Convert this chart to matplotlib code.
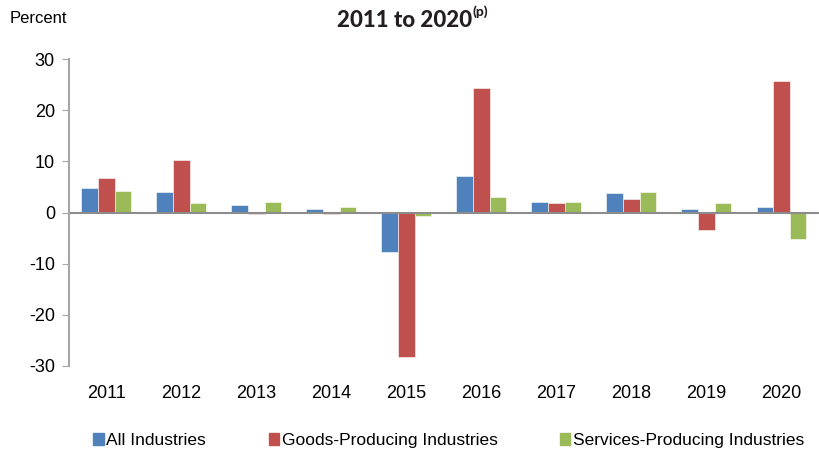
import numpy as np
import matplotlib.pyplot as plt
from matplotlib.patches import Patch

plt.rcParams['font.family'] = ['Liberation Sans', 'DejaVu Sans']
plt.rcParams['axes.unicode_minus'] = False

years = ["2011", "2012", "2013", "2014", "2015", "2016", "2017", "2018", "2019", "2020"]
all_ind = [4.8, 4.0, 1.4, 0.6, -7.7, 7.2, 2.0, 3.8, 0.7, 1.0]
goods = [6.8, 10.2, -0.3, -0.3, -28.3, 24.3, 1.9, 2.7, -3.5, 25.7]
services = [4.2, 1.8, 2.1, 1.0, -0.7, 3.1, 2.0, 4.0, 1.8, -5.2]

series = [("All Industries", all_ind, "#4F81BD"),
          ("Goods-Producing Industries", goods, "#C0504D"),
          ("Services-Producing Industries", services, "#9BBB59")]

fig = plt.figure(figsize=(8.19, 4.51), dpi=100)
ax = fig.add_axes([0.084, 0.1885, 0.916, 0.6805])

x = np.arange(len(years))
w = 0.222
for i, (name, vals, col) in enumerate(series):
    ax.bar(x + (i - 1) * w, vals, w, color=col, edgecolor='white', linewidth=0.4, label=name)

ax.set_xlim(-0.5, len(years) - 0.5)
ax.set_ylim(-30, 30)
ax.set_yticks([-30, -20, -10, 0, 10, 20, 30])
ax.set_xticks(x)
ax.set_xticklabels(years)
ax.tick_params(axis='y', labelsize=13, length=5, color='#a6a6a6', pad=5)
ax.tick_params(axis='x', labelsize=13, length=0, pad=14)
for s in ['top', 'right', 'bottom']:
    ax.spines[s].set_visible(False)
ax.spines['left'].set_color('#a6a6a6')
ax.spines['left'].set_linewidth(1.5)
ax.axhline(0, color='#8c8c8c', linewidth=1.5)

fig.text(0.012, 0.96, "Percent", fontsize=12, va='center', ha='left')
# title with superscript drawn as two pieces
fig.text(0.576, 0.955, "2011 to 2020", fontsize=16, fontweight='black',
         family='Lato', color='#231f20', ha='right', va='center')
fig.text(0.577, 0.975, "(p)", fontsize=10, fontweight='black',
         family='Lato', color='#231f20', ha='left', va='center')

handles = [Patch(color=c, label=n) for n, v, c in series]
fig.legend(handles=handles, loc='center', bbox_to_anchor=(0.548, 0.023), ncol=3,
           frameon=False, fontsize=12.5, handlelength=0.6, handleheight=0.6,
           handletextpad=0.15, columnspacing=3.6)

fig.savefig("out.png", dpi=100)
